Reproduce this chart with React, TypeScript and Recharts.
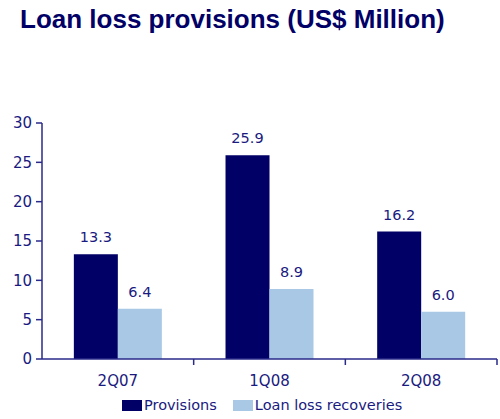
import React from 'react';
import { BarChart, Bar, XAxis, YAxis, LabelList, Legend } from 'recharts';

const categories = ['2Q07', '1Q08', '2Q08'];
const provisions = [13.3, 25.9, 16.2];
const recoveries = [6.4, 8.9, 6.0];
const yTicks = [0, 5, 10, 15, 20, 25, 30];
const seriesNames = ['Provisions', 'Loan loss recoveries'];

const data = categories.map((c, i) => ({ cat: c, provisions: provisions[i], recoveries: recoveries[i] }));

const NAVY = '#000066';
const LIGHT = '#a8c8e6';
const TEXT = '#1a1a80';
const AXIS = '#2a2a8a';
const FONT = '"DejaVu Sans", sans-serif';
const TICK_SIZE = 6;
const TICK_MARGIN = 10;

const CatTick = (props: any) => {
  const { x, y, payload, width, visibleTicksCount } = props;
  const half = width / (visibleTicksCount || categories.length) / 2;
  const axisY = y - TICK_SIZE - TICK_MARGIN;
  return (
    <g>
      <line x1={x + half} x2={x + half} y1={axisY} y2={axisY + TICK_SIZE} stroke={AXIS} strokeWidth={1.5} />
      <text x={x} y={y} dy="0.71em" textAnchor="middle" fill={TEXT} fontSize={15} fontFamily={FONT}>
        {payload.value}
      </text>
    </g>
  );
};

const LegendContent = () => (
  <div style={{ display: 'flex', fontFamily: FONT, fontSize: 14.5, color: TEXT, lineHeight: '16px' }}>
    <div style={{ display: 'flex', alignItems: 'center', marginLeft: 122 }}>
      <span style={{ display: 'inline-block', width: 20, height: 11, background: NAVY, marginRight: 2 }} />
      <span>{seriesNames[0]}</span>
    </div>
    <div style={{ display: 'flex', alignItems: 'center', marginLeft: 16 }}>
      <span style={{ display: 'inline-block', width: 20, height: 11, background: LIGHT, marginRight: 2 }} />
      <span>{seriesNames[1]}</span>
    </div>
  </div>
);

export default function App() {
  return (
    <div style={{ position: 'absolute', left: 0, top: 0, width: 500, height: 419, background: '#fff' }}>
      <div
        style={{
          position: 'absolute',
          left: 20,
          top: 4,
          fontFamily: '"Liberation Sans", Arial, sans-serif',
          fontWeight: 'bold',
          fontSize: 26,
          color: NAVY,
          whiteSpace: 'nowrap',
          lineHeight: '30px',
        }}
      >
        Loan loss provisions (US$ Million)
      </div>
      <BarChart
        width={500}
        height={419}
        data={data}
        margin={{ top: 123, right: 3, left: 0, bottom: 12 }}
        barCategoryGap="21%"
        barGap={0}
      >
        <XAxis
          dataKey="cat"
          axisLine={{ stroke: AXIS, strokeWidth: 1.5 }}
          tickLine={false}
          tickSize={TICK_SIZE}
          tickMargin={TICK_MARGIN}
          tick={<CatTick />}
          height={30}
          interval={0}
        />
        <YAxis
          domain={[0, 30]}
          ticks={yTicks}
          width={42}
          axisLine={{ stroke: AXIS, strokeWidth: 1.5 }}
          tickLine={{ stroke: AXIS, strokeWidth: 1.5 }}
          tickSize={6}
          tick={{ fill: TEXT, fontSize: 15, fontFamily: FONT }}
          tickMargin={4}
          interval={0}
        />
        <Legend
          verticalAlign="bottom"
          content={<LegendContent />}
          wrapperStyle={{ top: 397, left: 0, width: 500, height: 18 }}
        />
        <Bar dataKey="provisions" fill={NAVY} isAnimationActive={false}>
          <LabelList dataKey="provisions" position="top" offset={12} fill={TEXT} fontSize={14.5} fontFamily={FONT} formatter={(v: number) => v.toFixed(1)} />
        </Bar>
        <Bar dataKey="recoveries" fill={LIGHT} isAnimationActive={false}>
          <LabelList dataKey="recoveries" position="top" offset={12} fill={TEXT} fontSize={14.5} fontFamily={FONT} formatter={(v: number) => v.toFixed(1)} />
        </Bar>
      </BarChart>
    </div>
  );
}
